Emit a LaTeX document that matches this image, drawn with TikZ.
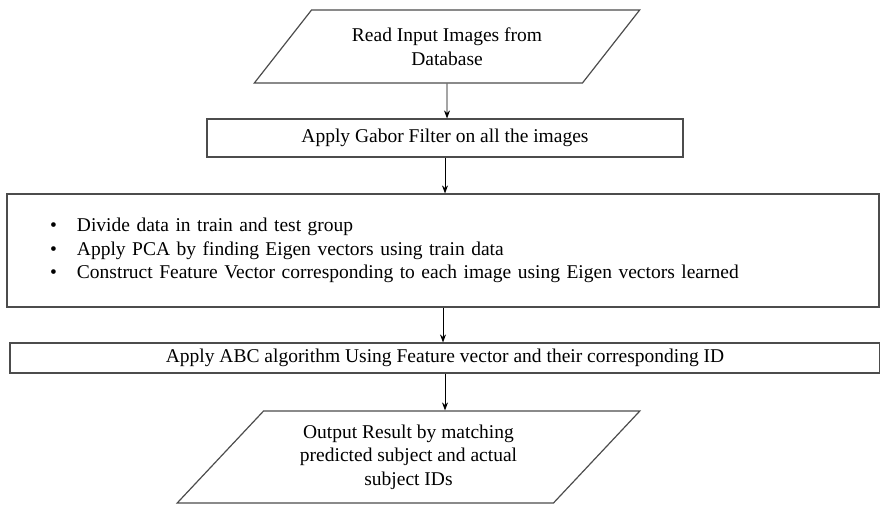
\documentclass[tikz,border=0pt]{standalone}
\usepackage{fontspec}
\setmainfont{Liberation Serif}
\usetikzlibrary{arrows.meta, shapes.geometric}

\begin{document}
\begin{tikzpicture}[
          x=1pt, y=-1pt,
          every node/.style={font=\fontsize{19.5}{23.5}\selectfont, draw=black!70, line width=1.2pt, inner sep=0pt},
          stepbox/.style={rectangle},
          iobox/.style={trapezium, trapezium stretches=true, align=center},
          flow/.style={->, draw=black, line width=0.8pt},
          >={Stealth[length=8pt, width=6pt]}
        ]
        \useasboundingbox (0,0) rectangle (880,504);
        \node [iobox, trapezium left angle=43, trapezium right angle=137,
               minimum width=386pt, minimum height=73pt] (read) at (447,46.5)
              {Read Input Images from\\Database};
        \node [stepbox, minimum width=476pt, minimum height=38pt] (gabor) at (445,138)
              {Apply Gabor Filter on all the images};
        \node [stepbox, minimum width=872pt, minimum height=113pt, inner xsep=43pt,
               text width=786pt, align=left] (steps) at (443,250.5)
              {\makebox[27pt][l]{\textbullet}Divide data in train and test group\\
               \makebox[27pt][l]{\textbullet}Apply PCA by finding Eigen vectors using train data\\
               \makebox[27pt][l]{\textbullet}Construct Feature Vector corresponding to each image using Eigen vectors learned};
        \node [stepbox, minimum width=870pt, minimum height=30pt] (abc) at (445,358)
              {Apply ABC algorithm Using Feature vector and their corresponding ID};
        \node [iobox, trapezium left angle=45, trapezium right angle=135,
               minimum width=463pt, minimum height=92pt] (output) at (408.5,457)
              {Output Result by matching\\predicted subject and actual\\subject IDs};

        \draw [flow] (read) -- (read |- gabor.north);
        \draw [flow] (gabor) -- (gabor |- steps.north);
        \draw [flow] (steps) -- (steps |- abc.north);
        \draw [flow] (abc) -- (abc |- output.north);
        \end{tikzpicture}
\end{document}
